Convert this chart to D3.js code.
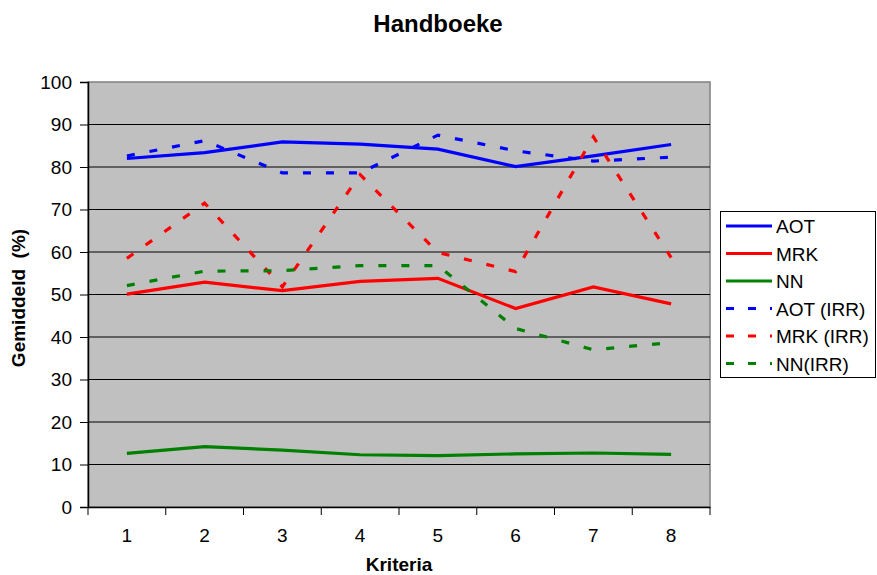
<!DOCTYPE html>
<html><head><meta charset="utf-8">
<script src="https://cdn.jsdelivr.net/npm/d3@7"></script>
<style>body{margin:0;background:#fff;} text{font-family:"Liberation Sans",Arial,sans-serif;}</style>
</head><body>
<svg id="c" width="877" height="575"></svg>
<script>
const categories = [1,2,3,4,5,6,7,8];
const AOT     = [82.0, 83.4, 85.9, 85.4, 84.2, 80.1, 82.6, 85.3];
const MRK     = [50.1, 52.9, 50.9, 53.1, 53.8, 46.7, 51.8, 47.8];
const NN      = [12.6, 14.2, 13.4, 12.3, 12.1, 12.5, 12.7, 12.4];
const AOT_IRR = [82.6, 86.2, 78.6, 78.6, 87.5, 83.8, 81.4, 82.3];
const MRK_IRR = [58.5, 71.5, 51.8, 78.2, 59.9, 55.4, 87.1, 58.7];
const NN_IRR  = [52.1, 55.5, 55.6, 56.8, 56.8, 42.0, 37.0, 38.7];
const yTicks = [0,10,20,30,40,50,60,70,80,90,100];
const seriesNames = ["AOT","MRK","NN","AOT (IRR)","MRK (IRR)","NN(IRR)"];

const series = [
  {name:seriesNames[0], values:AOT, color:"#0000ff", dash:null},
  {name:seriesNames[1], values:MRK, color:"#ff0000", dash:null},
  {name:seriesNames[2], values:NN, color:"#008000", dash:null},
  {name:seriesNames[3], values:AOT_IRR, color:"#0000ff", dash:"8,15"},
  {name:seriesNames[4], values:MRK_IRR, color:"#ff0000", dash:"8,15"},
  {name:seriesNames[5], values:NN_IRR, color:"#008000", dash:"8,15"}
];

const svg = d3.select("#c");
const L=88, R=710, T=82, B=507;
const x = d3.scaleBand().domain(categories).range([L,R]);
const y = d3.scaleLinear().domain([0,100]).range([B,T]);

svg.append("rect").attr("x",L).attr("y",T).attr("width",R-L).attr("height",B-T)
  .attr("fill","#c0c0c0").attr("stroke","#808080").attr("stroke-width",1.5);

// gridlines
svg.append("g").selectAll("line").data(yTicks.filter(d=>d>0&&d<100)).join("line")
  .attr("x1",L).attr("x2",R).attr("y1",d=>y(d)).attr("y2",d=>y(d))
  .attr("stroke","#000").attr("stroke-width",1);

// y axis
const yAxis = svg.append("g").attr("transform",`translate(${L},0)`)
  .call(d3.axisLeft(y).tickValues(yTicks).tickSize(8).tickPadding(8));
yAxis.select(".domain").attr("stroke","#000").attr("stroke-width",1.5);
yAxis.selectAll(".tick line").attr("stroke","#000");
yAxis.selectAll("text").attr("font-size",19).attr("fill","#000")
  .style("font-family","'Liberation Sans',Arial,sans-serif");

// x axis
const xAxis = svg.append("g").attr("transform",`translate(0,${B})`)
  .call(d3.axisBottom(x).tickSize(0).tickPadding(22));
xAxis.select(".domain").attr("stroke","#000").attr("stroke-width",1.5);
xAxis.selectAll("text").attr("font-size",19).attr("fill","#000")
  .style("font-family","'Liberation Sans',Arial,sans-serif");
const bounds = categories.map(c=>x(c)).concat([R]);
svg.append("g").selectAll("line").data(bounds).join("line")
  .attr("x1",d=>d).attr("x2",d=>d).attr("y1",B).attr("y2",B+8)
  .attr("stroke","#000").attr("stroke-width",1);

// lines
const line = d3.line().x((d,i)=>x(categories[i])+x.bandwidth()/2).y(d=>y(d));
svg.append("g").selectAll("path").data(series).join("path")
  .attr("d",d=>line(d.values)).attr("fill","none")
  .attr("stroke",d=>d.color).attr("stroke-width",3.2)
  .attr("stroke-dasharray",d=>d.dash);

// titles
svg.append("text").attr("x",438).attr("y",32).attr("text-anchor","middle")
  .attr("font-size",24).attr("font-weight","bold").text("Handboeke");
svg.append("text").attr("x",399).attr("y",571).attr("text-anchor","middle")
  .attr("font-size",19).attr("font-weight","bold").text("Kriteria");
svg.append("text").attr("transform","translate(25,298) rotate(-90)").attr("text-anchor","middle")
  .attr("font-size",19).attr("font-weight","bold").attr("xml:space","preserve").text("Gemiddeld  (%)");

// legend
const lg = svg.append("g");
lg.append("rect").attr("x",720.5).attr("y",211.5).attr("width",155).attr("height",166)
  .attr("fill","#fff").attr("stroke","#000").attr("stroke-width",1);
const items = lg.selectAll("g").data(series).join("g")
  .attr("transform",(d,i)=>`translate(0,${226+i*27.5})`);
items.append("line").attr("x1",726).attr("x2",772).attr("y1",0).attr("y2",0)
  .attr("stroke",d=>d.color).attr("stroke-width",3.2)
  .attr("stroke-dasharray",d=>d.dash?"8,14":null);
items.append("text").attr("x",776).attr("y",7).attr("font-size",19).text(d=>d.name);
</script>
</body></html>
